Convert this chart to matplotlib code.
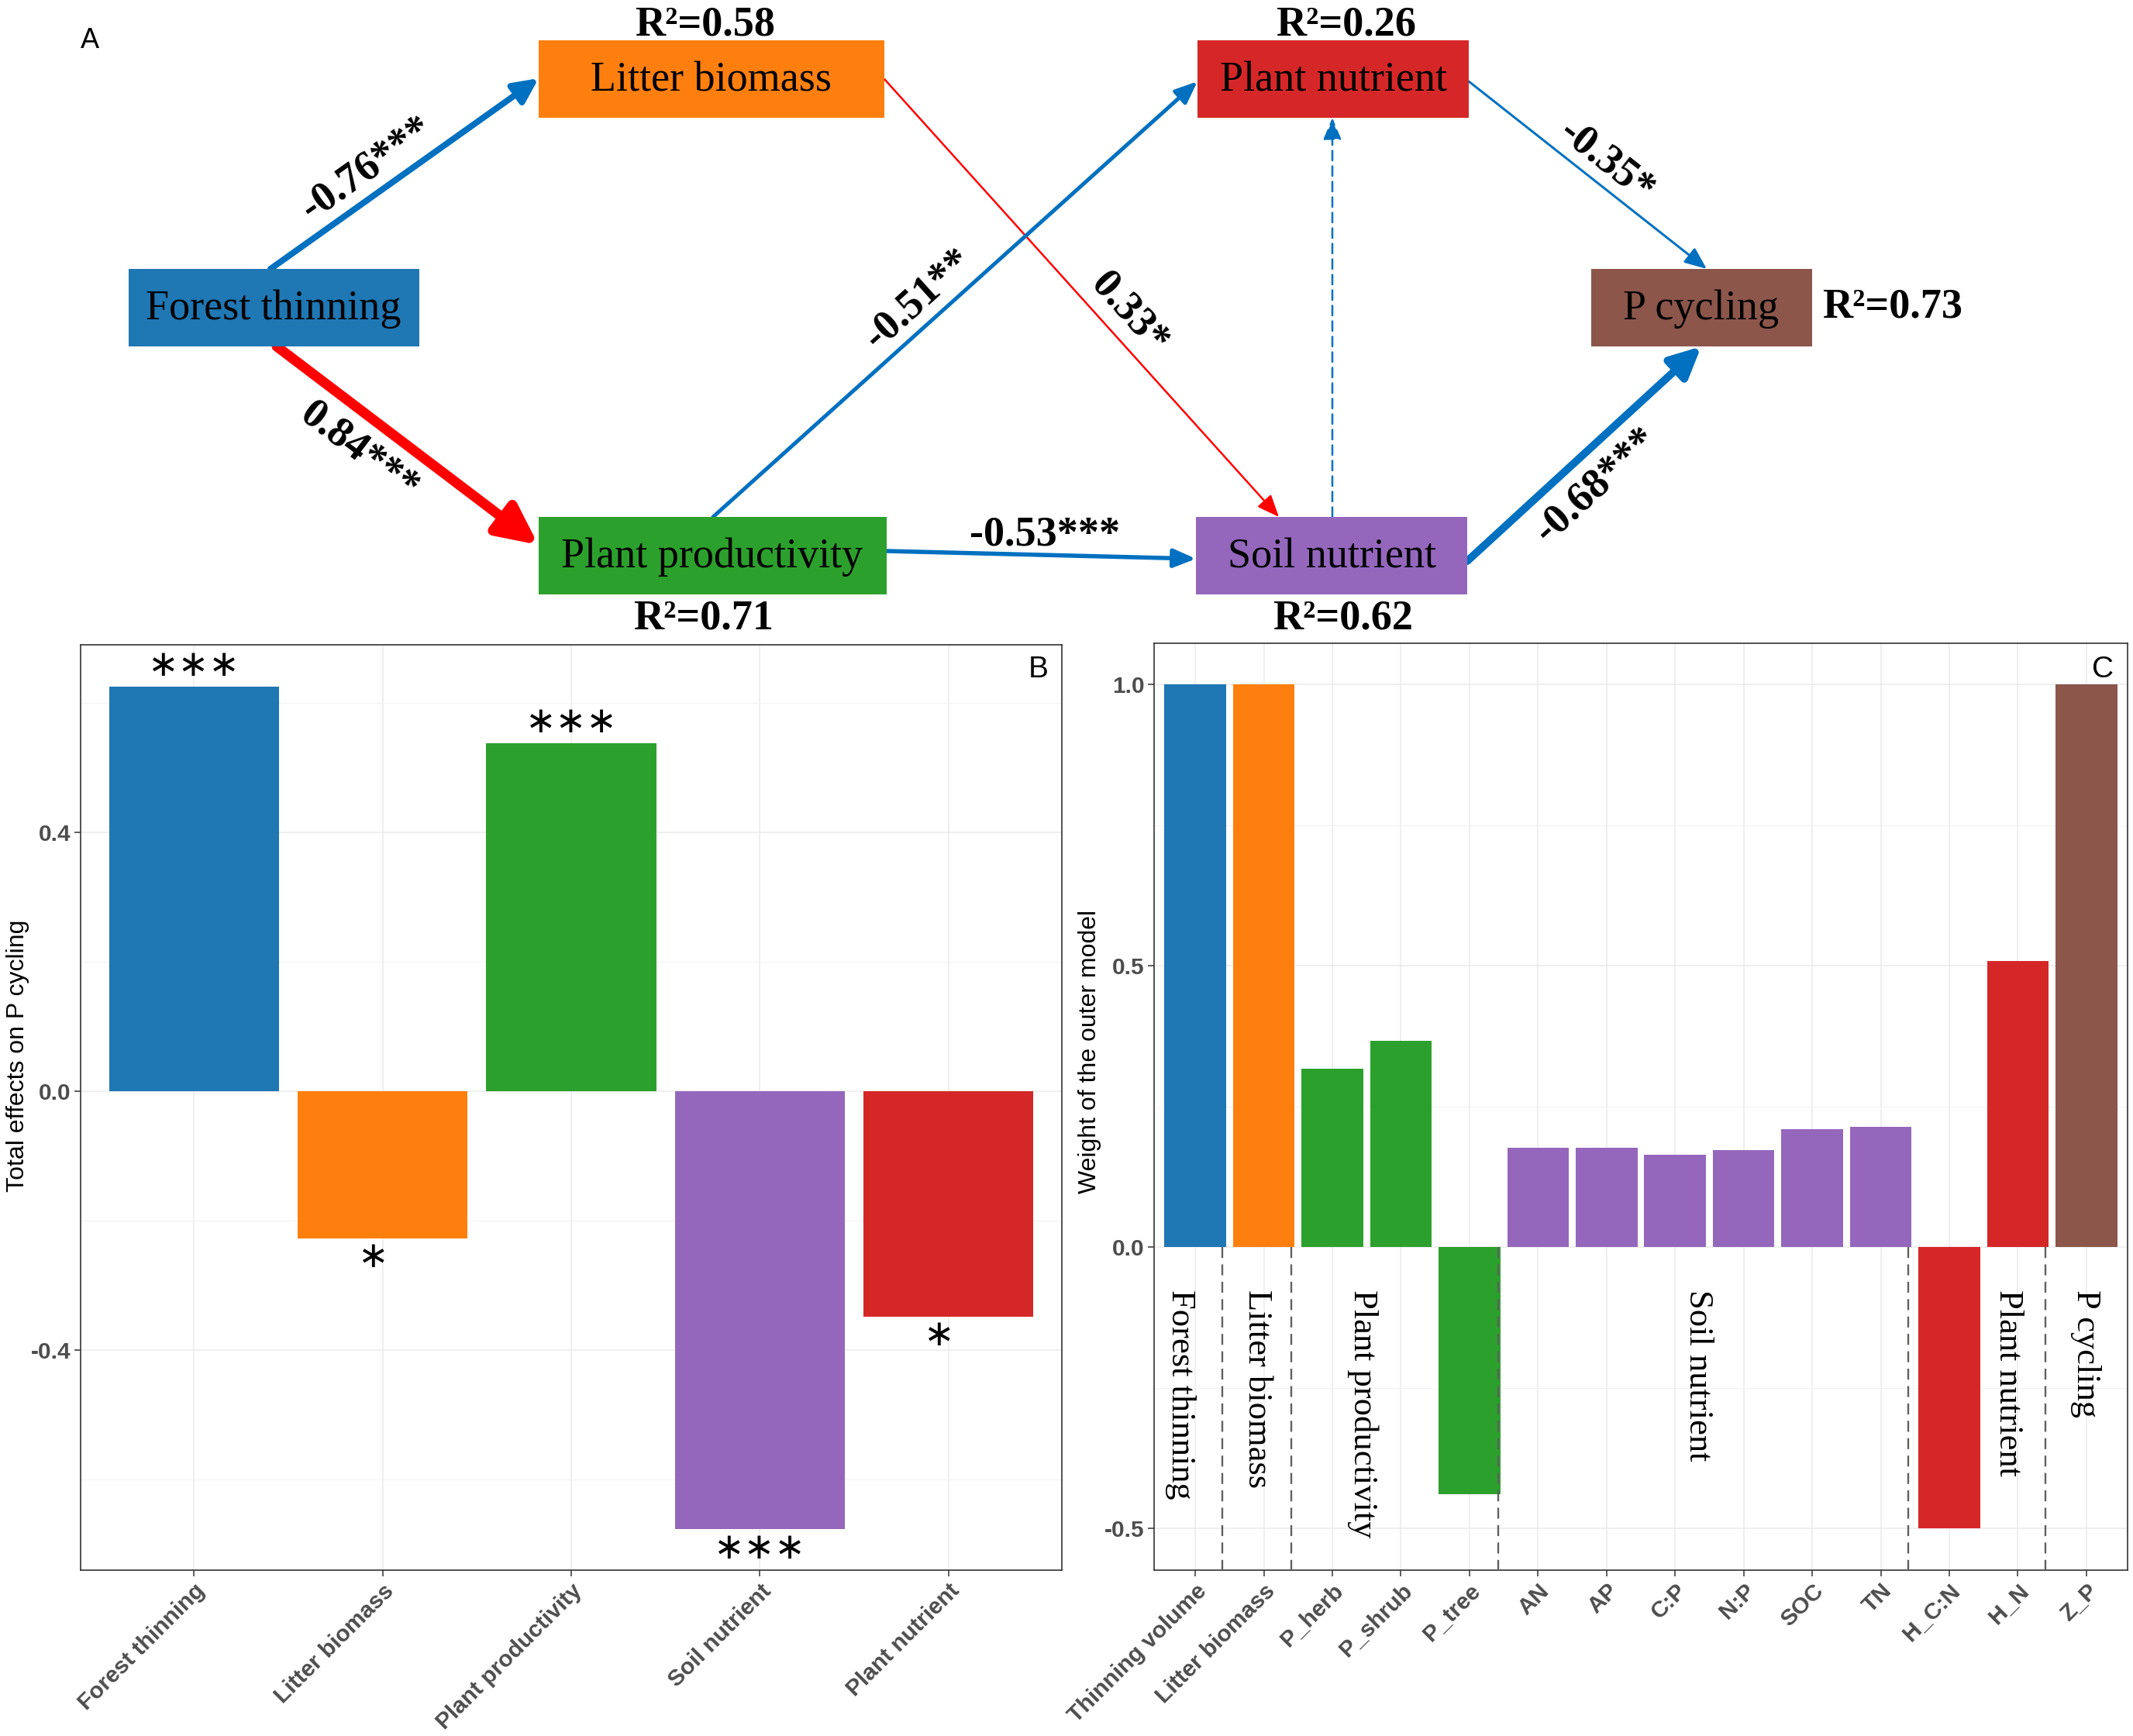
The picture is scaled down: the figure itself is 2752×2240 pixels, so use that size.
import matplotlib
matplotlib.use('Agg')
import matplotlib.pyplot as plt
from matplotlib.patches import Rectangle, FancyArrowPatch
import numpy as np

plt.rcParams['axes.unicode_minus'] = False

W, H = 2752, 2240
PX = 72 / 100  # pixels -> points at dpi 100

# ---------------- data ----------------
# A: path model
nodes = ['Forest thinning', 'Litter biomass', 'Plant productivity',
         'Plant nutrient', 'Soil nutrient', 'P cycling']
node_colors = ['#1f77b4', '#ff7f0e', '#2ca02c', '#d62728', '#9467bd', '#8c564b']
r2_values = [None, 0.58, 0.71, 0.26, 0.62, 0.73]

path_from = ['Forest thinning', 'Forest thinning', 'Litter biomass', 'Plant productivity',
             'Plant productivity', 'Soil nutrient', 'Plant nutrient', 'Soil nutrient']
path_to = ['Litter biomass', 'Plant productivity', 'Soil nutrient', 'Plant nutrient',
           'Soil nutrient', 'Plant nutrient', 'P cycling', 'P cycling']
path_coef = [-0.76, 0.84, 0.33, -0.51, -0.53, np.nan, -0.35, -0.68]
path_sig = ['***', '***', '*', '**', '***', '', '*', '***']

# B: total effects on P cycling
effect_names = ['Forest thinning', 'Litter biomass', 'Plant productivity',
                'Soil nutrient', 'Plant nutrient']
total_effects = [0.625, -0.227, 0.538, -0.677, -0.348]
effect_sig = ['***', '*', '***', '***', '*']

# C: outer model weights
indicators = ['Thinning volume', 'Litter biomass', 'P_herb', 'P_shrub', 'P_tree',
              'AN', 'AP', 'C:P', 'N:P', 'SOC', 'TN', 'H_C:N', 'H_N', 'Z_P']
indicator_group = ['Forest thinning', 'Litter biomass', 'Plant productivity',
                   'Plant productivity', 'Plant productivity', 'Soil nutrient',
                   'Soil nutrient', 'Soil nutrient', 'Soil nutrient', 'Soil nutrient',
                   'Soil nutrient', 'Plant nutrient', 'Plant nutrient', 'P cycling']
outer_weights = [1.0, 1.0, 0.317, 0.367, -0.439, 0.177, 0.177, 0.164, 0.173,
                 0.209, 0.214, -0.5, 0.509, 1.0]
group_names = ['Forest thinning', 'Litter biomass', 'Plant productivity',
               'Soil nutrient', 'Plant nutrient', 'P cycling']

color_of = dict(zip(nodes, node_colors))

# ---------------- layout (pixels) ----------------
box = {  # center x, center y, width, height
    'Forest thinning': (353, 397, 375, 100),
    'Litter biomass': (918, 102, 446, 100),
    'Plant productivity': (919, 717, 449, 100),
    'Plant nutrient': (1720, 102, 350, 100),
    'Soil nutrient': (1718, 717, 350, 100),
    'P cycling': (2195, 397, 285, 100),
}
r2_pos = {
    'Litter biomass': (910, 32, 'center'),
    'Plant productivity': (908, 798, 'center'),
    'Plant nutrient': (1737, 32, 'center'),
    'Soil nutrient': (1733, 798, 'center'),
    'P cycling': (2351, 397, 'left'),
}
# start side/offset, end side/offset, line width px, colour, label position
arrow_style = [
    (('top', -4), ('left', -1), 8, '#0070c0', (473, 218)),
    (('bottom', 4), ('left', -14), 13, '#ff0000', (463, 582)),
    (('right', 0), ('top', -68), 2.5, '#ff0000', (1457, 404)),
    (('top', 1), ('left', 3), 5, '#0070c0', (1185, 386)),
    (('right', -6), ('left', 4), 5.5, '#0070c0', (1348, 690)),
    (('top', 1), ('bottom', -1), 2.5, '#0070c0', None),
    (('right', 3), ('top', 7), 3, '#0070c0', (2072, 209)),
    (('right', 7), ('bottom', 0), 10, '#0070c0', (2059, 626)),
]


def anchor(name, side, off):
    cx, cy, w, h = box[name]
    if side == 'top':
        return cx + off, cy - h / 2
    if side == 'bottom':
        return cx + off, cy + h / 2
    if side == 'left':
        return cx - w / 2, cy + off
    return cx + w / 2, cy + off


fig = plt.figure(figsize=(W / 100, H / 100), dpi=100)

# ---------------- panel A ----------------
ax_a = fig.add_axes([0, 0, 1, 1])
ax_a.set_xlim(0, W)
ax_a.set_ylim(H, 0)
ax_a.axis('off')

for name, col in zip(nodes, node_colors):
    cx, cy, w, h = box[name]
    ax_a.add_patch(Rectangle((cx - w / 2, cy - h / 2), w, h, facecolor=col,
                             edgecolor='none', zorder=3))
    ax_a.text(cx, cy + 2, name, ha='center', va='center', fontsize=39,
              family='Liberation Serif', zorder=4)

for name, r2 in zip(nodes, r2_values):
    if r2 is None:
        continue
    x, y, ha = r2_pos[name]
    ax_a.text(x, y, 'R\u00b2=%.2f' % r2, ha=ha, va='center', fontsize=39,
              fontweight='bold', family='Liberation Serif')

for src, dst, coef, sig, st in zip(path_from, path_to, path_coef, path_sig, arrow_style):
    (s_side, s_off), (e_side, e_off), lw, col, lab = st
    p0 = anchor(src, s_side, s_off)
    p1 = anchor(dst, e_side, e_off)
    dashed = np.isnan(coef)
    hl = max(24, lw * 3.3)
    hw = max(10, lw * 1.6)
    arr = FancyArrowPatch(p0, p1,
                          arrowstyle='-|>,head_length=%.2f,head_width=%.2f' % (hl * PX, hw * PX),
                          mutation_scale=1, lw=lw * PX, color=col, shrinkA=0, shrinkB=0,
                          linestyle=(0, (5, 3)) if dashed else '-', zorder=2)
    ax_a.add_patch(arr)
    if lab is not None:
        ang = np.degrees(np.arctan2(-(p1[1] - p0[1]), p1[0] - p0[0]))
        if abs(ang) < 3:
            ang = 0
        ax_a.text(lab[0], lab[1], '%.2f%s' % (coef, sig), rotation=ang,
                  rotation_mode='anchor', ha='center', va='center', fontsize=39,
                  fontweight='bold', family='Liberation Serif')

ax_a.text(116, 52, 'A', ha='center', va='center', fontsize=26, family='Liberation Sans')


# ---------------- panels B and C (ggplot theme_bw look) ----------------
def style_axes(ax):
    ax.set_facecolor('white')
    ax.grid(True, which='major', color='#ebebeb', lw=1.1, zorder=0)
    ax.grid(True, which='minor', axis='y', color='#f3f3f3', lw=0.8, zorder=0)
    ax.set_axisbelow(True)
    for s in ax.spines.values():
        s.set_color('#333333')
        s.set_linewidth(1.2)
    ax.tick_params(axis='both', which='major', length=6, width=1.1, color='#333333',
                   pad=3)
    ax.tick_params(axis='both', which='minor', length=0)
    for t in ax.get_xticklabels():
        t.set_rotation(45)
        t.set_ha('right')
        t.set_va('top')
        t.set_rotation_mode('anchor')
    for t in ax.get_xticklabels() + ax.get_yticklabels():
        t.set_fontsize(21.5)
        t.set_fontweight('bold')
        t.set_color('#4d4d4d')
        t.set_family('Liberation Sans')


# B
ax_b = fig.add_axes([104 / W, 1 - 2026 / H, (1370 - 104) / W, (2026 - 832) / H])
xb = np.arange(1, len(effect_names) + 1)
ax_b.bar(xb, total_effects, width=0.9, color=[color_of[n] for n in effect_names], zorder=2)
for x, v, s in zip(xb, total_effects, effect_sig):
    ax_b.text(x - (0.05 if len(s) == 1 else 0.0), v + (0.032 if v > 0 else -0.03),
              s.replace('*', '\u2217'), ha='center', va='center', fontsize=34,
              family='DejaVu Sans')
ax_b.set_xlim(0.4, len(effect_names) + 0.6)
ax_b.set_ylim(-0.740, 0.690)
ax_b.set_xticks(xb)
ax_b.set_xticklabels(effect_names)
ax_b.set_yticks([-0.4, 0.0, 0.4])
ax_b.set_yticklabels(['-0.4', '0.0', '0.4'])
ax_b.set_yticks([-0.6, -0.2, 0.2, 0.6], minor=True)
style_axes(ax_b)
ax_b.set_ylabel('Total effects on P cycling', fontsize=23, family='Liberation Sans')
ax_b.yaxis.set_label_coords(-0.052, 0.556)
ax_b.text(0.9866, 0.988, 'B', transform=ax_b.transAxes, ha='right', va='top',
          fontsize=28, family='Liberation Sans')

# C
ax_c = fig.add_axes([1489 / W, 1 - 2026 / H, (2745 - 1489) / W, (2026 - 830) / H])
xc = np.arange(1, len(indicators) + 1)
ax_c.bar(xc, outer_weights, width=0.9, color=[color_of[g] for g in indicator_group], zorder=2)
ax_c.set_xlim(0.4, len(indicators) + 0.6)
ax_c.set_ylim(-0.574, 1.073)
ax_c.set_xticks(xc)
ax_c.set_xticklabels(indicators)
ax_c.set_yticks([-0.5, 0.0, 0.5, 1.0])
ax_c.set_yticklabels(['-0.5', '0.0', '0.5', '1.0'])
ax_c.set_yticks([-0.25, 0.25, 0.75], minor=True)
style_axes(ax_c)
ax_c.set_ylabel('Weight of the outer model', fontsize=23, family='Liberation Sans')
ax_c.yaxis.set_label_coords(-0.054, 0.559)
ax_c.text(0.9857, 0.987, 'C', transform=ax_c.transAxes, ha='right', va='top',
          fontsize=28, family='Liberation Sans')

# group separators and group names
sep_x = [1.4, 2.4, 5.42, 11.4, 13.4]
ymin = ax_c.get_ylim()[0]
for sx in sep_x:
    ax_c.plot([sx, sx], [0, ymin], color='#606060', lw=1.7, ls=(0, (6, 3.5)), zorder=3)
group_x = [0.78, 1.9, 3.44, 8.34, 12.86, 13.99]
for g, gx in zip(group_names, group_x):
    ax_c.text(gx, -0.075, g, rotation=-90, ha='center', va='top', fontsize=32,
              family='Liberation Serif', zorder=4)

fig.savefig('out.png', dpi=100)
